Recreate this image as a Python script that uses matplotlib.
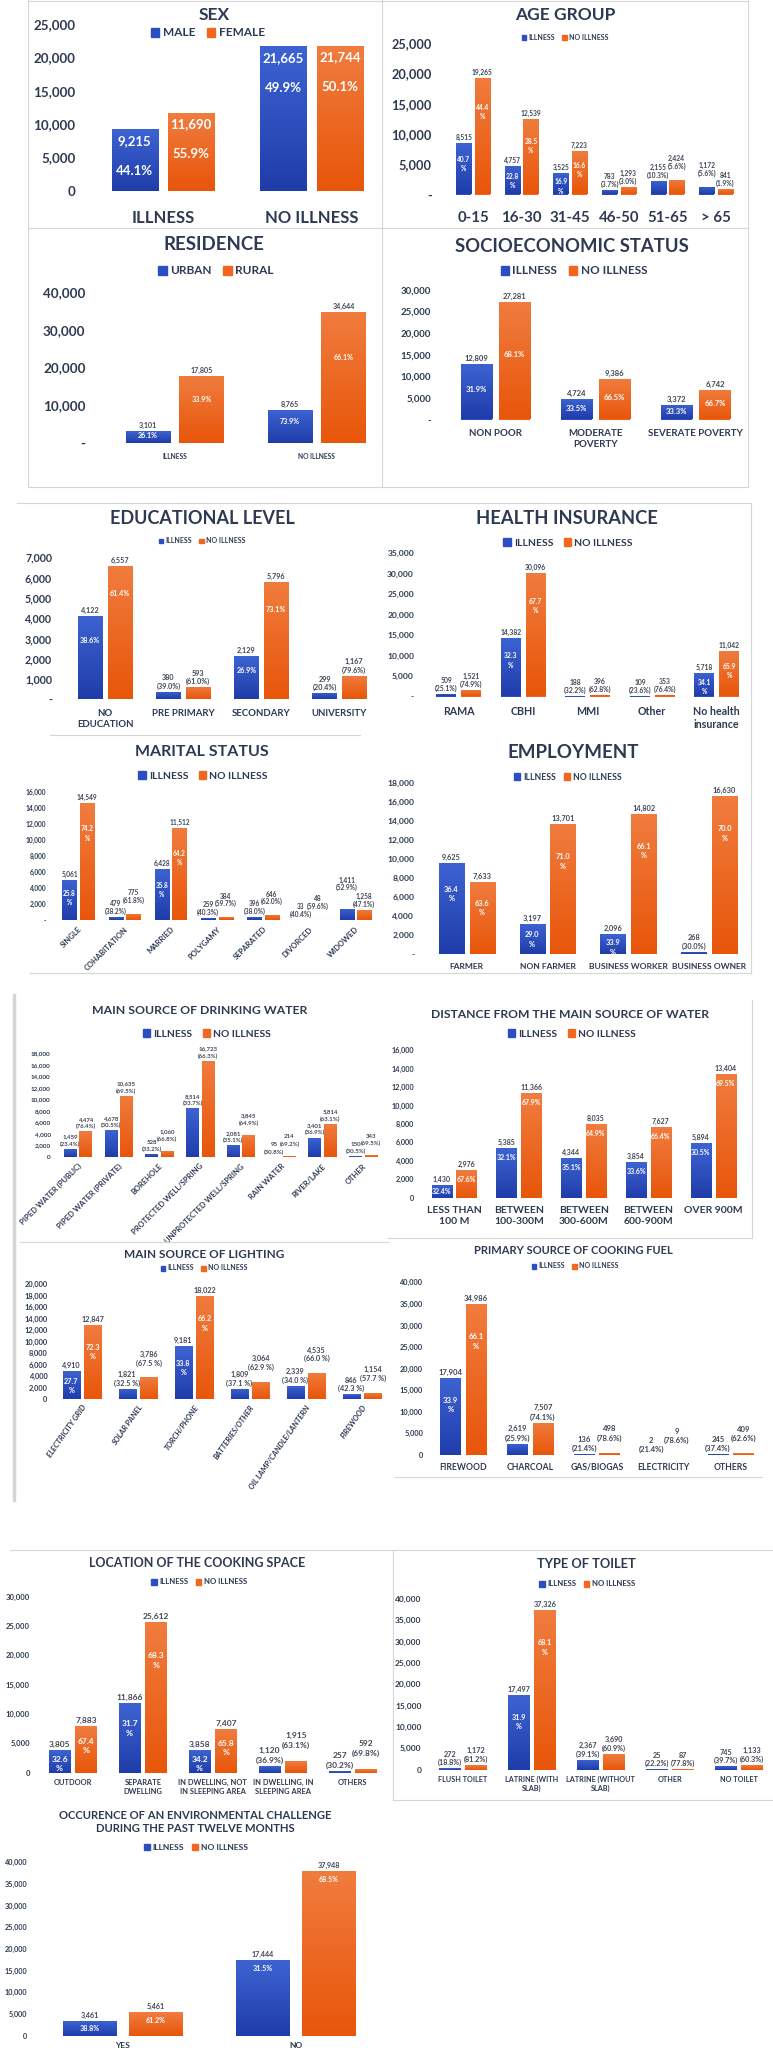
import numpy as np
import matplotlib.pyplot as plt
from matplotlib import transforms
from matplotlib.patches import Patch
from matplotlib.lines import Line2D
from matplotlib.colors import LinearSegmentedColormap

# ---- data ----
sex_cats = ['ILLNESS', 'NO ILLNESS']
sex_male = [9215, 21665]
sex_female = [11690, 21744]
sex_male_pct = [44.1, 49.9]
sex_female_pct = [55.9, 50.1]

age_cats = ['0-15', '16-30', '31-45', '46-50', '51-65', '> 65']
age_ill = [8515, 4757, 3525, 783, 2155, 1172]
age_noill = [19265, 12539, 7223, 1293, 2424, 841]
age_ill_pct = [40.7, 22.8, 16.9, 3.7, 10.3, 5.6]
age_noill_pct = [44.4, 28.5, 16.6, 3.0, 5.6, 1.9]

res_cats = ['ILLNESS', 'NO ILLNESS']
res_urban = [3101, 8765]
res_rural = [17805, 34644]
res_urban_pct = [26.1, 73.9]
res_rural_pct = [33.9, 66.1]

ses_cats = ['NON POOR', 'MODERATE\nPOVERTY', 'SEVERATE POVERTY']
ses_ill = [12809, 4724, 3372]
ses_noill = [27281, 9386, 6742]
ses_ill_pct = [31.9, 33.5, 33.3]
ses_noill_pct = [68.1, 66.5, 66.7]

edu_cats = ['NO\nEDUCATION', 'PRE PRIMARY', 'SECONDARY', 'UNIVERSITY']
edu_ill = [4122, 380, 2129, 299]
edu_noill = [6557, 593, 5796, 1167]
edu_ill_pct = [38.6, 39.0, 26.9, 20.4]
edu_noill_pct = [61.4, 61.0, 73.1, 79.6]

ins_cats = ['RAMA', 'CBHI', 'MMI', 'Other', 'No health\ninsurance']
ins_ill = [509, 14382, 188, 109, 5718]
ins_noill = [1521, 30096, 396, 353, 11042]
ins_ill_pct = [25.1, 32.3, 32.2, 23.6, 34.1]
ins_noill_pct = [74.9, 67.7, 62.8, 76.4, 65.9]

mar_cats = ['SINGLE', 'COHABITATION', 'MARRIED', 'POLYGAMY', 'SEPARATED', 'DIVORCED', 'WIDOWED']
mar_ill = [5061, 479, 6428, 259, 396, 33, 1411]
mar_noill = [14549, 775, 11512, 384, 646, 48, 1258]
mar_ill_pct = [25.8, 38.2, 35.8, 40.3, 38.0, 40.4, 52.9]
mar_noill_pct = [74.2, 61.8, 64.2, 59.7, 62.0, 59.6, 47.1]

emp_cats = ['FARMER', 'NON FARMER', 'BUSINESS WORKER', 'BUSINESS OWNER']
emp_ill = [9625, 3197, 2096, 268]
emp_noill = [7633, 13701, 14802, 16630]
emp_ill_pct = [36.4, 29.0, 33.9, 30.0]
emp_noill_pct = [63.6, 71.0, 66.1, 70.0]

water_cats = ['PIPED WATER (PUBLIC)', 'PIPED WATER (PRIVATE)', 'BOREHOLE', 'PROTECTED WELL/SPRING',
              'UNPROTECTED WELL/SPRING', 'RAIN WATER', 'RIVER/LAKE', 'OTHER']
water_ill = [1459, 4678, 528, 8514, 2081, 95, 3401, 150]
water_noill = [4474, 10635, 1060, 16723, 3845, 214, 5814, 343]
water_ill_pct = [23.4, 30.5, 33.2, 33.7, 35.1, 30.8, 36.9, 30.5]
water_noill_pct = [76.4, 69.5, 66.8, 66.3, 64.9, 69.2, 63.1, 69.5]

dist_cats = ['LESS THAN\n100 M', 'BETWEEN\n100-300M', 'BETWEEN\n300-600M', 'BETWEEN\n600-900M', 'OVER 900M']
dist_ill = [1430, 5385, 4344, 3854, 5894]
dist_noill = [2976, 11366, 8035, 7627, 13404]
dist_ill_pct = [32.4, 32.1, 35.1, 33.6, 30.5]
dist_noill_pct = [67.6, 67.9, 64.9, 66.4, 69.5]

light_cats = ['ELECTRICITY GRID', 'SOLAR PANEL', 'TORCH/PHONE', 'BATTERIES/OTHER',
              'OIL LAMP/CANDLE/LANTERN', 'FIREWOOD']
light_ill = [4910, 1821, 9181, 1809, 2339, 846]
light_noill = [12847, 3786, 18022, 3064, 4535, 1154]
light_ill_pct = [27.7, 32.5, 33.8, 37.1, 34.0, 42.3]
light_noill_pct = [72.3, 67.5, 66.2, 62.9, 66.0, 57.7]

fuel_cats = ['FIREWOOD', 'CHARCOAL', 'GAS/BIOGAS', 'ELECTRICITY', 'OTHERS']
fuel_ill = [17904, 2619, 136, 2, 245]
fuel_noill = [34986, 7507, 498, 9, 409]
fuel_ill_pct = [33.9, 25.9, 21.4, 21.4, 37.4]
fuel_noill_pct = [66.1, 74.1, 78.6, 78.6, 62.6]

cook_cats = ['OUTDOOR', 'SEPARATE\nDWELLING', 'IN DWELLING, NOT\nIN SLEEPING AREA',
             'IN DWELLING, IN\nSLEEPING AREA', 'OTHERS']
cook_ill = [3805, 11866, 3858, 1120, 257]
cook_noill = [7883, 25612, 7407, 1915, 592]
cook_ill_pct = [32.6, 31.7, 34.2, 36.9, 30.2]
cook_noill_pct = [67.4, 68.3, 65.8, 63.1, 69.8]

toilet_cats = ['FLUSH TOILET', 'LATRINE (WITH\nSLAB)', 'LATRINE (WITHOUT\nSLAB)', 'OTHER', 'NO TOILET']
toilet_ill = [272, 17497, 2367, 25, 745]
toilet_noill = [1172, 37326, 3690, 87, 1133]
toilet_ill_pct = [18.8, 31.9, 39.1, 22.2, 39.7]
toilet_noill_pct = [81.2, 68.1, 60.9, 77.8, 60.3]

env_cats = ['YES', 'NO']
env_ill = [3461, 17444]
env_noill = [5461, 37948]
env_ill_pct = [38.8, 31.5]
env_noill_pct = [61.2, 68.5]

# ---- style ----
W, H = 773, 2057
plt.rcParams['font.family'] = ['Lato', 'DejaVu Sans']
BLUE = '#2b4ec3'
ORANGE = '#f2661f'
BLUE_GRAD = LinearSegmentedColormap.from_list('b', ['#1f3daa', '#3d63d2'])
ORANGE_GRAD = LinearSegmentedColormap.from_list('o', ['#e8560a', '#f07c3e'])
NAVY = '#2e3a52'
LBL = '#3f4656'
GRID = '#d6d6d6'

fig = plt.figure(figsize=(W / 100, H / 100), dpi=100)
pairs = []  # above-bar label pairs that may collide


def fx(x):
    return x / W


def fy(y):
    return 1 - y / H


def hline(y, x0, x1, lw=0.8):
    fig.add_artist(Line2D([fx(x0), fx(x1)], [fy(y), fy(y)], color=GRID, lw=lw))


def vline(x, y0, y1, lw=0.8):
    fig.add_artist(Line2D([fx(x), fx(x)], [fy(y0), fy(y1)], color=GRID, lw=lw))


def shade(ax, bars, cmap):
    grad = np.linspace(0, 1, 64).reshape(-1, 1)
    for bar in bars:
        bx, by = bar.get_xy()
        bw, bh = bar.get_width(), bar.get_height()
        if bh <= 0:
            continue
        im = ax.imshow(grad, extent=(bx, bx + bw, by, by + bh), origin='lower', cmap=cmap,
                       aspect='auto', zorder=2.5, interpolation='bilinear')
        im.set_clip_path(bar)


def panel(rect, cats, a, b, pa, pb, ymax, step, zero, title, t_xy, t_size,
          leg, l_xy, l_size, tk_size, tk_pad, cat_y, cat_size, rot=0, cat_style='normal',
          mode='in2', inside_min=np.inf, v_size=5, p_size=None, split=True,
          above_fmt='({:.1f}%)', k=0.06):
    x0, y0, x1, y1 = rect
    ax = fig.add_axes([fx(x0), fy(y1), (x1 - x0) / W, (y1 - y0) / H])
    ax.patch.set_alpha(0)
    x = np.arange(len(cats))
    bars_a = ax.bar(x - 0.19, a, 0.31, color=BLUE, zorder=2)
    bars_b = ax.bar(x + 0.19, b, 0.31, color=ORANGE, zorder=2)
    shade(ax, bars_a, BLUE_GRAD)
    shade(ax, bars_b, ORANGE_GRAD)
    ax.set_xlim(-0.5, len(cats) - 0.5)
    ax.set_ylim(0, ymax)
    ticks = np.arange(0, ymax + 1, step)
    ax.set_yticks(ticks, [zero if t == 0 else f'{t:,}' for t in ticks])
    ax.tick_params(axis='y', length=0, pad=tk_pad / 1.389, labelsize=tk_size, labelcolor=NAVY)
    for t in ax.get_yticklabels():
        t.set_fontweight('bold')
    ax.set_xticks([])
    for s in ax.spines.values():
        s.set_visible(False)
    ax.axhline(0, color=GRID, lw=0.8, zorder=1)

    tr = transforms.blended_transform_factory(ax.transData, fig.transFigure)
    for xi, c in zip(x, cats):
        if rot:
            ax.text(xi + 0.05, fy(cat_y), c, transform=tr, rotation=rot, rotation_mode='anchor',
                    ha='right', va='center', size=cat_size, weight='bold', color=NAVY,
                    style=cat_style)
        else:
            ax.text(xi, fy(cat_y), c, transform=tr, ha='center', va='top', size=cat_size,
                    weight='bold', color=NAVY, linespacing=1.25)

    fig.text(fx(t_xy[0]), fy(t_xy[1]), title, ha='center', va='center', size=t_size,
             weight='bold', color=NAVY, linespacing=1.3)
    fig.legend([Patch(color=BLUE), Patch(color=ORANGE)], leg, loc='center',
               bbox_to_anchor=(fx(l_xy[0]), fy(l_xy[1])), ncol=2, frameon=False,
               prop={'size': l_size, 'weight': 'bold'}, labelcolor=NAVY,
               handlelength=0.7, handleheight=0.7, handletextpad=0.3,
               columnspacing=1.0, borderpad=0, borderaxespad=0)

    p_size = p_size or v_size
    unit = ymax / (y1 - y0)  # data units per pixel
    line = v_size * 1.389 * 1.2 * unit
    above = {}
    for side, xs, vals, pcts in ((0, x - 0.19, a, pa), (1, x + 0.19, b, pb)):
        for i, (xi, v, p) in enumerate(zip(xs, vals, pcts)):
            if mode == 'sex':
                ax.text(xi, v - 0.07 * ymax, f'{v:,}', ha='center', va='center',
                        color='white', size=v_size, weight='bold', zorder=4)
                ax.text(xi, v - 0.25 * ymax, f'{p:.1f}%', ha='center', va='center',
                        color='white', size=v_size, weight='bold', zorder=4)
                continue
            kw = dict(ha='center', va='bottom', size=v_size, weight='bold', color=LBL)
            if v < inside_min:
                t1 = ax.text(xi, v + 2 * unit, above_fmt.format(p), **kw)
                t2 = ax.text(xi, v + 2 * unit + line, f'{v:,}', **kw)
                above[(i, side)] = [t1, t2]
                continue
            ax.text(xi, v + 2 * unit, f'{v:,}', **kw)
            ikw = dict(ha='center', size=p_size, weight='bold', color='white', zorder=4)
            if mode == 'in2':
                s = f'{p:.1f}\n%' if split else f'{p:.1f}%'
                off = min(max(0.25 * v, 0.03 * ymax), 0.17 * ymax)
                ax.text(xi, v - off, s, va='top', linespacing=1.4, **ikw)
            elif mode == 'top':
                ax.text(xi, max(v - k * ymax, v / 2), f'{p:.1f}%', va='center', **ikw)
            elif mode == 'frac':
                ax.text(xi, k * v, f'{p:.1f}%', va='center', **ikw)
    for i in range(len(cats)):
        if (i, 0) in above and (i, 1) in above:
            up = 0 if a[i] > b[i] else 1
            pairs.append((line, above[(i, 1 - up)], above[(i, up)]))
    return ax


def resolve():
    r = fig.canvas.get_renderer()
    for line, low, high in pairs:
        for _ in range(4):
            bl = [t.get_window_extent(r) for t in low]
            bh = [t.get_window_extent(r) for t in high]
            if not any(p.overlaps(q) for p in bl for q in bh):
                break
            for t in high:
                t.set_y(t.get_position()[1] + line)


IL = ('ILLNESS', 'NO ILLNESS')

# ---- frames ----
hline(1, 28, 748)
hline(228, 28, 748)
hline(487, 28, 748)
vline(28, 0, 487)
vline(382, 0, 487)
vline(748, 0, 487)
hline(503, 17, 751)
hline(735, 50, 360)
hline(973, 30, 751)
vline(751, 503, 973)
vline(14, 995, 1500, lw=2.5)
hline(1242, 20, 388)
hline(1238, 388, 752)
vline(752, 1000, 1238)
hline(1477, 395, 762)
hline(1550, 10, 773)
vline(393, 1550, 1800)
hline(1800, 393, 773)

# ---- panels ----
panel((88.5, 24, 386, 190.7), sex_cats, sex_male, sex_female, sex_male_pct, sex_female_pct,
      25000, 5000, '0', 'SEX', (214, 15), 12.5, ('MALE', 'FEMALE'), (208, 33), 8.5,
      9.6, 13, 210, 12, mode='sex', v_size=9.5)

panel((448.7, 43, 740.3, 194.5), age_cats, age_ill, age_noill, age_ill_pct, age_noill_pct,
      25000, 5000, '-', 'AGE GROUP', (565, 15), 12.5, IL, (565, 37), 5,
      9.2, 17, 211, 10.8, inside_min=3000, v_size=4.8)

panel((103.5, 292, 387.5, 443), res_cats, res_urban, res_rural, res_urban_pct, res_rural_pct,
      40000, 10000, '-', 'RESIDENCE', (214, 245), 13.4, ('URBAN', 'RURAL'), (216, 271), 8.5,
      9.7, 18, 453, 4.8, mode='frac', inside_min=0, v_size=5.1, k=0.65)

panel((445.5, 290, 746, 419.5), ses_cats, ses_ill, ses_noill, ses_ill_pct, ses_noill_pct,
      30000, 5000, '-', 'SOCIOECONOMIC STATUS', (572, 246), 13.3, IL, (574, 271), 8.5,
      7, 14.5, 429, 7, mode='frac', inside_min=0, v_size=5.5, k=0.55)

panel((66, 557.3, 378.5, 699.3), edu_cats, edu_ill, edu_noill, edu_ill_pct, edu_noill_pct,
      7000, 1000, '-', 'EDUCATIONAL LEVEL', (202, 518), 13, IL, (202, 541), 5,
      7.7, 14, 709, 6.9, inside_min=2000, v_size=5.2, split=False)

panel((426.5, 553.3, 749, 696.5), ins_cats, ins_ill, ins_noill, ins_ill_pct, ins_noill_pct,
      35000, 5000, '-', 'HEALTH INSURANCE', (567, 518), 13.2, IL, (568, 543), 7.5,
      6.1, 12.5, 706, 7.7, inside_min=5000, v_size=4.9)

panel((55.2, 791.7, 378.6, 920.4), mar_cats, mar_ill, mar_noill, mar_ill_pct, mar_noill_pct,
      16000, 2000, '-', 'MARITAL STATUS', (202, 752), 11.5, IL, (203, 776), 7.5,
      4.8, 9, 928, 5.5, rot=45, inside_min=5000, v_size=4.7)

panel((426.3, 783.3, 749.6, 954.1), emp_cats, emp_ill, emp_noill, emp_ill_pct, emp_noill_pct,
      18000, 2000, '-', 'EMPLOYMENT', (573, 753), 13.5, IL, (568, 777), 6.2,
      6.1, 12, 963, 6.1, inside_min=2000, v_size=5.3)

panel((57.4, 1053.3, 383.7, 1157.2), water_cats, water_ill, water_noill, water_ill_pct,
      water_noill_pct, 18000, 2000, '0', 'MAIN SOURCE OF DRINKING WATER', (200, 1011), 8.8,
      IL, (207, 1034), 7.4, 4.6, 6.7, 1165, 5.5, rot=45, v_size=4.4)

panel((421.6, 1050, 745.7, 1197.8), dist_cats, dist_ill, dist_noill, dist_ill_pct, dist_noill_pct,
      16000, 2000, '0', 'DISTANCE FROM THE MAIN SOURCE OF WATER', (570, 1014), 8.7,
      IL, (572, 1034), 7.4, 5.2, 7.6, 1206, 7.5, mode='top', inside_min=0, v_size=5, k=0.065)

panel((54, 1284.3, 390, 1399.2), light_cats, light_ill, light_noill, light_ill_pct,
      light_noill_pct, 20000, 2000, '0', 'MAIN SOURCE OF LIGHTING', (204, 1254), 8.5,
      IL, (204, 1268), 5, 5.4, 6.5, 1406, 5.5, rot=55, cat_style='italic',
      inside_min=4800, v_size=5.2, above_fmt='({:.1f} %)')

panel((430, 1282.3, 764, 1454.9), fuel_cats, fuel_ill, fuel_noill, fuel_ill_pct, fuel_noill_pct,
      40000, 5000, '0', 'PRIMARY SOURCE OF COOKING FUEL', (573, 1250), 8,
      IL, (575, 1266), 5, 5.3, 7, 1463, 6.2, inside_min=10000, v_size=5.5)

panel((37.8, 1596.7, 388, 1772.6), cook_cats, cook_ill, cook_noill, cook_ill_pct, cook_noill_pct,
      30000, 5000, '0', 'LOCATION OF THE COOKING SPACE', (197, 1563), 9,
      IL, (199, 1582), 5.6, 5.5, 7.8, 1779, 5.4, inside_min=3000, v_size=6)

panel((428.5, 1599, 773.3, 1769.6), toilet_cats, toilet_ill, toilet_noill, toilet_ill_pct,
      toilet_noill_pct, 40000, 5000, '0', 'TYPE OF TOILET', (586, 1564), 9.3,
      IL, (587, 1584), 5.6, 6, 7, 1776, 5.2, inside_min=10000, v_size=5.2)

panel((35.75, 1862.3, 382.75, 2035.7), env_cats, env_ill, env_noill, env_ill_pct, env_noill_pct,
      40000, 5000, '0', 'OCCURENCE OF AN ENVIRONMENTAL CHALLENGE\nDURING THE PAST TWELVE MONTHS',
      (195, 1822), 8.1, IL, (196, 1847), 6.1, 5.2, 8.7, 2042, 6, mode='top', inside_min=0,
      v_size=5.1, k=0.05)

resolve()
fig.savefig('out.png', dpi=100)
